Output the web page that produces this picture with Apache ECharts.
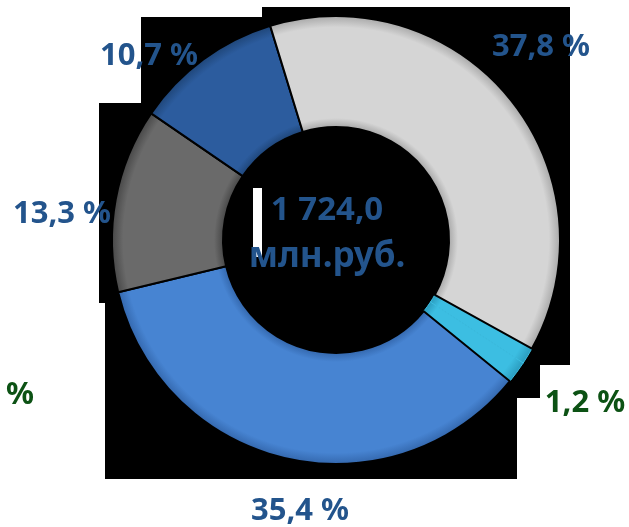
<!DOCTYPE html>
<html>
<head>
<meta charset="utf-8">
<style>
  html, body { margin: 0; padding: 0; background: #fff; }
  #chart { width: 629px; height: 527px; }
</style>
<script src="https://cdn.jsdelivr.net/npm/echarts@6/dist/echarts.min.js"></script>
</head>
<body>
<div id="chart"></div>
<script>
// доли структуры, % (голубой сектор на рисунке = 1,2 и сектор с обрезанной подписью "%")
var sliceNames = ['s1', 's2', 's3', 's4', 's5', 's6']
var sliceValues = [1.2, 1.6, 35.4, 13.3, 10.7, 37.8]
var sliceLabels = ['1,2 %', '%', '35,4 %', '13,3 %', '10,7 %', '37,8 %']
var totalValue = '1 724,0'
var totalUnit = 'млн.руб.'

// оформление
var blueText = '#23548C'
var greenText = '#0C5214'
var baseColors = ['#3CBEE2', '#3CBEE2', '#4784D2', '#6A6A6A', '#2C5C9E', '#D5D5D5']
var edgeColors = ['#2B9DC0', '#2B9DC0', '#3468AE', '#484848', '#1F4679', '#A9A9A9']
var labelColors = [greenText, greenText, blueText, blueText, blueText, blueText]
var labelPos = [[585, 403], [20, 395], [300, 511], [62, 214], [149, 56], [541, 47]]
var cx = 336, cy = 240, rIn = 113, rOut = 224
var labelFont = 'Noto Sans'

// черная подложка за кольцом
var backRects = [
  [262, 7, 308, 358],
  [141, 17, 121, 348],
  [99, 103, 42, 200],
  [105, 303, 412, 176],
  [517, 365, 23, 33]
]

var chart = echarts.init(document.getElementById('chart'))

function bevel(i) {
  var k = rIn / rOut
  return new echarts.graphic.RadialGradient(cx, cy, rOut, [
    { offset: k, color: edgeColors[i] },
    { offset: k + 0.04, color: baseColors[i] },
    { offset: 0.95, color: baseColors[i] },
    { offset: 1, color: edgeColors[i] }
  ], true)
}

var graphics = backRects.map(function (r) {
  return {
    type: 'rect',
    z: -10,
    shape: { x: r[0], y: r[1], width: r[2], height: r[3] },
    style: { fill: '#000' }
  }
})
graphics.push({
  type: 'rect',
  z: -5,
  shape: { x: 253, y: 188, width: 9, height: 69 },
  style: { fill: '#fff' }
})
graphics.push({
  type: 'text',
  z: 10,
  x: 327,
  y: 234,
  style: {
    text: '{a|' + totalValue + '}\n{b|' + totalUnit + '}',
    fill: blueText,
    textAlign: 'center',
    textVerticalAlign: 'middle',
    rich: {
      a: { fontFamily: labelFont, fontWeight: 'bold', fontSize: 33, lineHeight: 46, fill: blueText, align: 'center' },
      b: { fontFamily: labelFont, fontWeight: 'bold', fontSize: 35, lineHeight: 46, fill: blueText, align: 'center' }
    }
  }
})

chart.setOption({
  backgroundColor: '#fff',
  animation: false,
  graphic: graphics,
  series: [{
    type: 'pie',
    center: [cx, cy],
    radius: [rIn, rOut],
    startAngle: -29,
    clockwise: true,
    avoidLabelOverlap: false,
    labelLine: { show: false },
    label: {
      show: true,
      position: 'outside',
      fontFamily: labelFont,
      fontWeight: 'bold',
      fontSize: 31,
      formatter: function (p) {
        return sliceLabels[p.dataIndex]
      }
    },
    labelLayout: function (p) {
      var pos = labelPos[p.dataIndex]
      return { x: pos[0], y: pos[1], align: 'center', verticalAlign: 'middle' }
    },
    data: sliceValues.map(function (v, i) {
      var cyan = i === 0 || i === 1
      return {
        name: sliceNames[i],
        value: v,
        itemStyle: {
          color: bevel(i),
          borderColor: cyan ? baseColors[i] : '#000',
          borderWidth: cyan ? 1 : 2
        },
        label: { color: labelColors[i] }
      }
    })
  }]
})
</script>
</body>
</html>
